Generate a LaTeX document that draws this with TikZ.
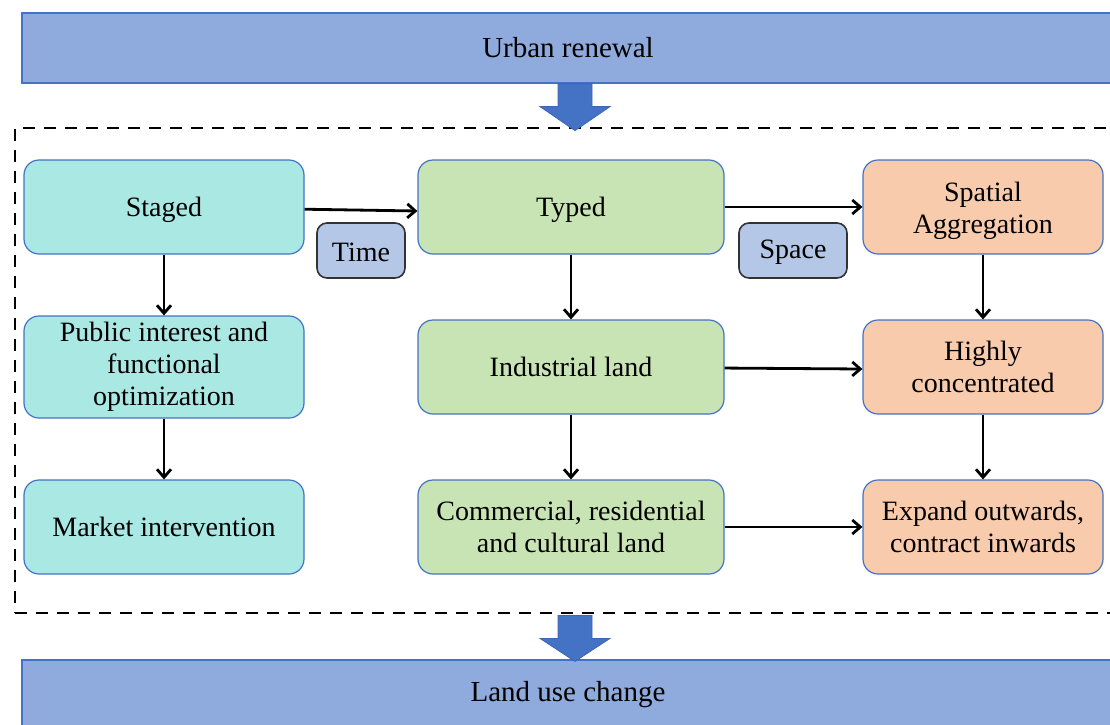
\documentclass[tikz,border=0pt]{standalone}
\usepackage{fontspec}
\setmainfont{Liberation Serif}
\usepackage{xcolor}
\usetikzlibrary{positioning,arrows.meta}

\definecolor{barfill}{HTML}{8FAADC}
\definecolor{barline}{HTML}{4472C4}
\definecolor{tealfill}{HTML}{A9E8E3}
\definecolor{greenfill}{HTML}{C9E4B4}
\definecolor{orangefill}{HTML}{F8CBAD}
\definecolor{tagfill}{HTML}{B4C7E7}

\begin{document}
\begin{tikzpicture}[node distance=80pt,on grid,
    box/.style={draw=barline,line width=0.6pt,rounded corners=7.5pt,minimum height=47pt,
        align=center,inner sep=2pt,font=\fontsize{14}{16}\selectfont},
    toprow/.style={text height=13pt},
    timebox/.style={box,fill=tealfill,minimum width=140pt},
    typebox/.style={box,fill=greenfill,minimum width=153pt},
    spacebox/.style={box,fill=orangefill,minimum width=120pt},
    tag/.style={draw=black!80,line width=0.8pt,fill=tagfill,rounded corners=5pt,
        minimum height=27.5pt,inner sep=2pt,text height=11pt,font=\fontsize{14}{16}\selectfont},
    bar/.style={draw=barline,line width=0.6pt,fill=barfill,minimum width=546pt,
        minimum height=35pt,font=\fontsize{14.5}{17}\selectfont},
    flow/.style={-{Straight Barb[length=4pt,width=7pt]},line width=1.4pt},
    blockarrow/.style={fill=barline,draw=barline!90!black,line width=0.4pt}]

    \useasboundingbox (0,0) rectangle (555pt,-362pt);

    % bars and frame
    \node[bar] (renewal) at (284pt,-24pt) {Urban renewal};
    \node[bar] (landuse) at (284pt,-347.5pt) {Land use change};
    \node[draw,dash pattern=on 6pt off 4.5pt,line width=1.4pt,minimum width=550.5pt,
        minimum height=242.5pt] (frame) at (282.75pt,-185.25pt) {};

    % three columns
    \node[timebox,toprow] (staged) at (82pt,-103.5pt) {Staged};
    \node[timebox,minimum height=51pt] (public) [below=of staged] {Public interest and\\functional\\optimization};
    \node[timebox] (market) [below=of public] {Market intervention};

    \node[typebox,toprow] (typed) [right=203.5pt of staged] {Typed};
    \node[typebox] (industrial) [below=of typed] {Industrial land};
    \node[typebox] (commercial) [below=of industrial] {Commercial, residential\\and cultural land};

    \node[spacebox,text height=30pt] (spatial) [right=206pt of typed] {Spatial\\Aggregation};
    \node[spacebox] (highly) [below=of spatial] {Highly\\concentrated};
    \node[spacebox] (expand) [below=of highly] {Expand outwards,\\contract inwards};

    \node[tag,minimum width=44pt] (time) [below right=21.75pt and 98.5pt of staged] {Time};
    \node[tag,minimum width=54pt] (space) [below right=21.75pt and 111pt of typed] {Space};

    % block arrows
    \coordinate (topin) at (renewal.south -| 287.5pt,0);
    \coordinate (botin) at (frame.south -| 287.5pt,0);
    \fill[blockarrow] (topin) ++(-8.5pt,0) -- ++(0,-11.5pt) -- ++(-9pt,0) -- ++(17.5pt,-12pt)
        -- ++(17.5pt,12pt) -- ++(-9pt,0) -- ++(0,11.5pt) -- cycle;
    \fill[blockarrow] (botin) ++(-8.5pt,-0.5pt) -- ++(0,-11.5pt) -- ++(-9pt,0) -- ++(17.5pt,-11.5pt)
        -- ++(17.5pt,11.5pt) -- ++(-9pt,0) -- ++(0,11.5pt) -- cycle;

    \path[flow]
    (staged) edge ([yshift=-2pt]typed.west)
    (typed) edge (spatial)
    (industrial) edge ([yshift=-1pt]highly.west)
    (commercial) edge (expand)
    (staged) edge (public)
    (public) edge (market)
    (typed) edge (industrial)
    (industrial) edge (commercial)
    (spatial) edge (highly)
    (highly) edge (expand);
\end{tikzpicture}
\end{document}
